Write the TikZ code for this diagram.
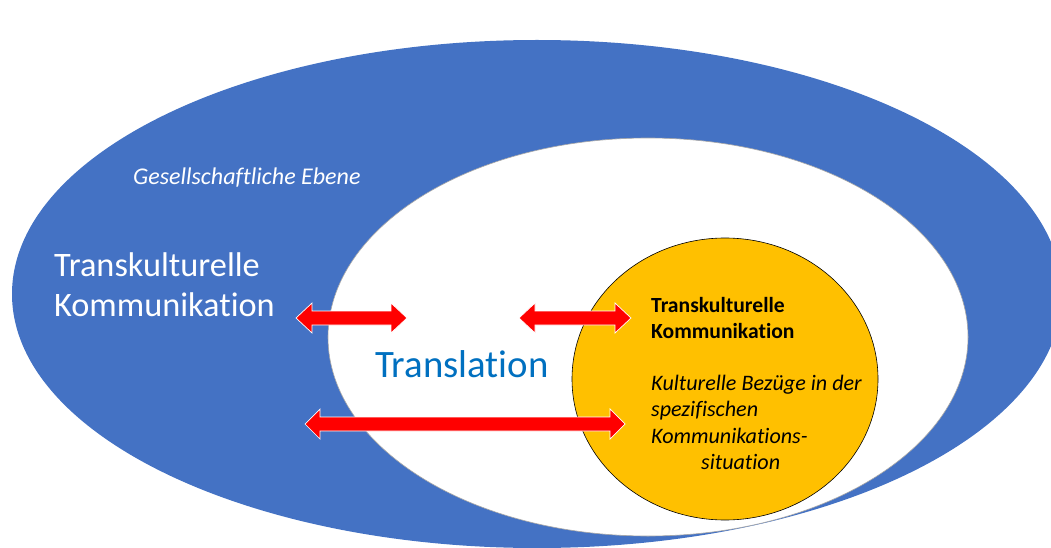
\documentclass[tikz,border=0pt]{standalone}
\usepackage{fontspec}
\setmainfont{Carlito}[RawFeature={-liga,-clig,-dlig}]
\definecolor{outerblue}{HTML}{4472C4}
\definecolor{coreorange}{HTML}{FFC000}
\definecolor{arrowred}{HTML}{FF0000}
\definecolor{transblue}{HTML}{0070C0}
\tikzset{
  txt/.style={inner sep=0pt, anchor=base west},
  redarrow/.style={fill=arrowred, draw=white, line width=0.7pt, line join=miter},
}
\newcommand{\darr}[4]{%
  \filldraw[redarrow] (#1,#3) -- ({#1+#4},{#3-15}) -- ({#1+#4},{#3-7}) -- ({#2-#4},{#3-7}) -- ({#2-#4},{#3-15}) -- (#2,#3) -- ({#2-#4},{#3+15}) -- ({#2-#4},{#3+7}) -- ({#1+#4},{#3+7}) -- ({#1+#4},{#3+15}) -- cycle;}
\begin{document}
\begin{tikzpicture}[x=1pt,y=-1pt]
\useasboundingbox (0,0) rectangle (1051,548);
\fill[white] (0,0) rectangle (1051,548);
% outer ellipse
\fill[outerblue] (537,294) ellipse [x radius=525, y radius=254];
% inner white ellipse
\filldraw[fill=white, draw=gray!70, line width=0.6pt] (648,337) ellipse [x radius=320, y radius=199];
% orange core
\filldraw[fill=coreorange, draw=black, line width=0.6pt] (725,379) ellipse [x radius=153, y radius=141];
% texts
\node[txt, text=white] (ebene) at (133,185) {\fontsize{24}{29}\selectfont\itshape Gesellschaftliche Ebene};
\node[txt, text=white] (tk1) at (54,276) {\fontsize{34.3}{40}\selectfont Transkulturelle};
\node[txt, text=white] (tk2) at (54,316) {\fontsize{34.3}{40}\selectfont Kommunikation};
\node[txt, text=transblue] (trans) at (375,377) {\fontsize{38.8}{46}\selectfont Translation};
\node[txt] (ob1) at (651,312) {\fontsize{21.6}{26}\selectfont\bfseries Transkulturelle};
\node[txt] (ob2) at (651,338) {\fontsize{21.6}{26}\selectfont\bfseries Kommunikation};
\node[txt] (oi1) at (651,390) {\fontsize{22.1}{26}\selectfont\itshape Kulturelle Bezüge in der};
\node[txt] (oi2) at (651,416.5) {\fontsize{22.1}{26}\selectfont\itshape spezifischen};
\node[txt] (oi3) at (651,443) {\fontsize{22.1}{26}\selectfont\itshape Kommunikations-};
\node[txt] (oi4) at (701,469) {\fontsize{22.1}{26}\selectfont\itshape situation};
% arrows
\darr{296}{407}{318}{16}
\darr{519}{631}{318}{16}
\darr{305}{625}{424}{15}
\end{tikzpicture}
\end{document}
